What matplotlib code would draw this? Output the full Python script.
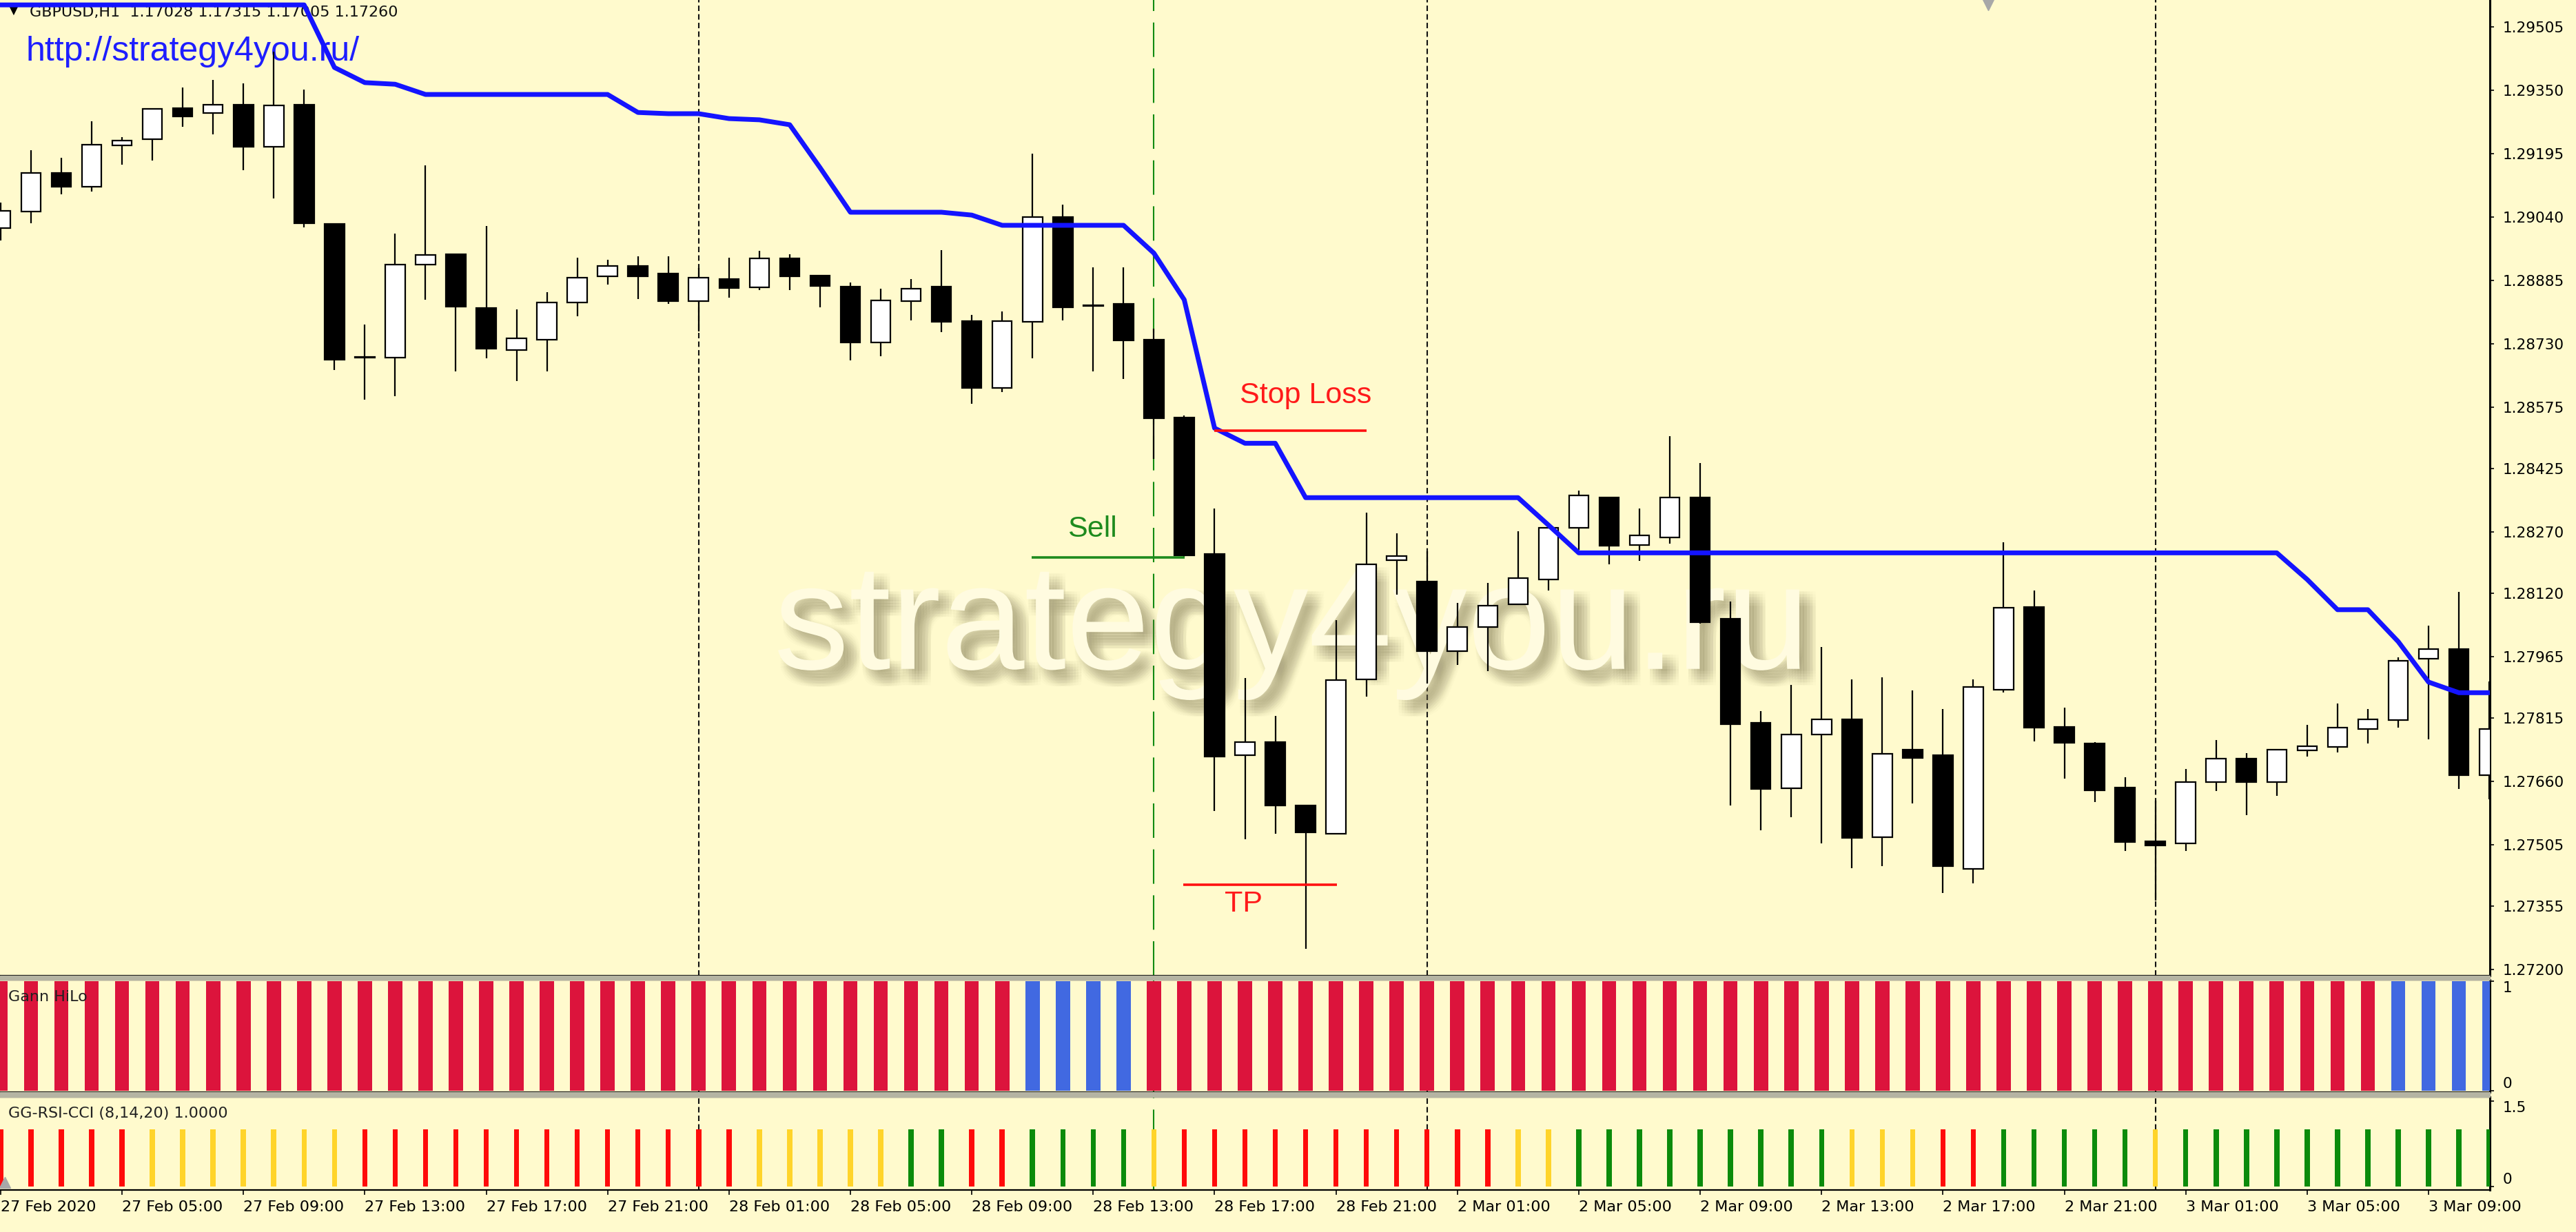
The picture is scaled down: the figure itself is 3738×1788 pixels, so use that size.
import matplotlib
matplotlib.use("Agg")
import matplotlib.pyplot as plt
import matplotlib.patheffects as pe
from matplotlib.patches import Rectangle
import numpy as np

# GBPUSD H1, 27 Feb 2020 01:00 .. 3 Mar 2020 11:00 (83 bars)
opens = [1.29013, 1.29054, 1.29148, 1.29114, 1.29215, 1.29230, 1.29306, 1.29295, 1.29315, 1.29212,
         1.29315, 1.29023, 1.28697, 1.28697, 1.28924, 1.28949, 1.28818, 1.28715, 1.28741, 1.28831,
         1.28895, 1.28921, 1.28902, 1.28835, 1.28889, 1.28869, 1.28939, 1.28897, 1.28870, 1.28734,
         1.28835, 1.28870, 1.28786, 1.28623, 1.28784, 1.29040, 1.28825, 1.28828, 1.28740, 1.28550,
         1.28216, 1.27724, 1.27756, 1.27601, 1.27532, 1.27910, 1.28201, 1.28149, 1.27979, 1.28038,
         1.28093, 1.28154, 1.28280, 1.28354, 1.28238, 1.28257, 1.28354, 1.28058, 1.27803, 1.27643,
         1.27775, 1.27812, 1.27524, 1.27738, 1.27724, 1.27446, 1.27884, 1.28087, 1.27793, 1.27753,
         1.27645, 1.27514, 1.27509, 1.27659, 1.27716, 1.27659, 1.27736, 1.27744, 1.27788, 1.27810,
         1.27960, 1.27984, 1.27675]
highs = [1.29076, 1.29204, 1.29185, 1.29274, 1.29236, 1.29305, 1.29357, 1.29376, 1.29367, 1.29445,
         1.29352, 1.29023, 1.28777, 1.29000, 1.29167, 1.28949, 1.29018, 1.28814, 1.28857, 1.28941,
         1.28936, 1.28944, 1.28944, 1.28916, 1.28941, 1.28958, 1.28949, 1.28897, 1.28880, 1.28865,
         1.28889, 1.28959, 1.28801, 1.28809, 1.29195, 1.29071, 1.28917, 1.28917, 1.28767, 1.28555,
         1.28328, 1.27913, 1.27820, 1.27601, 1.28055, 1.28318, 1.28267, 1.28223, 1.28097, 1.28146,
         1.28272, 1.28280, 1.28371, 1.28354, 1.28328, 1.28504, 1.28439, 1.28100, 1.27832, 1.27896,
         1.27989, 1.27910, 1.27915, 1.27883, 1.27837, 1.27910, 1.28245, 1.28127, 1.27841, 1.27756,
         1.27671, 1.27613, 1.27690, 1.27762, 1.27729, 1.27738, 1.27798, 1.27851, 1.27837, 1.27963,
         1.28041, 1.28124, 1.27905]
lows = [1.28983, 1.29025, 1.29096, 1.29103, 1.29168, 1.29178, 1.29261, 1.29242, 1.29155, 1.29086,
        1.29015, 1.28666, 1.28594, 1.28602, 1.28838, 1.28663, 1.28695, 1.28639, 1.28663, 1.28798,
        1.28875, 1.28840, 1.28828, 1.28761, 1.28843, 1.28862, 1.28862, 1.28819, 1.28690, 1.28700,
        1.28787, 1.28759, 1.28584, 1.28612, 1.28695, 1.28787, 1.28663, 1.28644, 1.28449, 1.28208,
        1.27588, 1.27519, 1.27532, 1.27251, 1.27532, 1.27868, 1.28117, 1.27899, 1.27945, 1.27930,
        1.28093, 1.28127, 1.28226, 1.28191, 1.28199, 1.28241, 1.28046, 1.27601, 1.27540, 1.27572,
        1.27509, 1.27448, 1.27453, 1.27606, 1.27387, 1.27411, 1.27877, 1.27758, 1.27667, 1.27610,
        1.27490, 1.27368, 1.27490, 1.27637, 1.27577, 1.27625, 1.27721, 1.27731, 1.27753, 1.27792,
        1.27763, 1.27642, 1.27616]
closes = [1.29055, 1.29148, 1.29114, 1.29217, 1.29227, 1.29305, 1.29287, 1.29315, 1.29212, 1.29313,
          1.29025, 1.28691, 1.28698, 1.28924, 1.28948, 1.28821, 1.28718, 1.28744, 1.28831, 1.28892,
          1.28921, 1.28895, 1.28835, 1.28892, 1.28867, 1.28939, 1.28895, 1.28872, 1.28734, 1.28836,
          1.28865, 1.28784, 1.28623, 1.28786, 1.29040, 1.28820, 1.28823, 1.28739, 1.28548, 1.28213,
          1.27721, 1.27756, 1.27601, 1.27535, 1.27908, 1.28191, 1.28211, 1.27979, 1.28038, 1.28090,
          1.28157, 1.28280, 1.28359, 1.28237, 1.28262, 1.28354, 1.28049, 1.27800, 1.27642, 1.27775,
          1.27812, 1.27522, 1.27728, 1.27718, 1.27453, 1.27891, 1.28085, 1.27792, 1.27755, 1.27638,
          1.27512, 1.27503, 1.27659, 1.27716, 1.27659, 1.27738, 1.27746, 1.27792, 1.27812, 1.27955,
          1.27984, 1.27675, 1.27788]

# Gann HiLo activator line (one value per bar)
gann_line = [1.29559, 1.29559, 1.29559, 1.29559, 1.29559, 1.29559, 1.29559, 1.29559, 1.29559, 1.29559,
             1.29559, 1.29406, 1.29369, 1.29365, 1.29340, 1.29340, 1.29340, 1.29340, 1.29340, 1.29340,
             1.29340, 1.29296, 1.29293, 1.29293, 1.29281, 1.29278, 1.29266, 1.29161, 1.29052, 1.29052,
             1.29052, 1.29052, 1.29045, 1.29020, 1.29020, 1.29020, 1.29020, 1.29020, 1.28952, 1.28838,
             1.28524, 1.28487, 1.28487, 1.28354, 1.28354, 1.28354, 1.28354, 1.28354, 1.28354, 1.28354,
             1.28354, 1.28287, 1.28219, 1.28219, 1.28219, 1.28219, 1.28219, 1.28219, 1.28219, 1.28219,
             1.28219, 1.28219, 1.28219, 1.28219, 1.28219, 1.28219, 1.28219, 1.28219, 1.28219, 1.28219,
             1.28219, 1.28219, 1.28219, 1.28219, 1.28219, 1.28219, 1.28154, 1.28080, 1.28080, 1.28002,
             1.27903, 1.27877, 1.27877]

# histogram states per bar: R = down, B = up (Gann HiLo); R / Y / G for GG-RSI-CCI
gann_state = ("RRRRRRRRRR" "RRRRRRRRRR" "RRRRRRRRRR" "RRRRBBBBRR" "RRRRRRRRRR"
              "RRRRRRRRRR" "RRRRRRRRRR" "RRRRRRRRRB" "BBB")
rsi_state = ("RRRRRYYYYY" "YYRRRRRRRR" "RRRRRYYYYY" "GGRRGGGGYR" "RRRRRRRRRR"
             "YYGGGGGGGG" "GYYYRRGGGG" "GYGGGGGGGG" "GGG")

time_labels = ["27 Feb 2020", "27 Feb 05:00", "27 Feb 09:00", "27 Feb 13:00", "27 Feb 17:00",
               "27 Feb 21:00", "28 Feb 01:00", "28 Feb 05:00", "28 Feb 09:00", "28 Feb 13:00",
               "28 Feb 17:00", "28 Feb 21:00", "2 Mar 01:00", "2 Mar 05:00", "2 Mar 09:00",
               "2 Mar 13:00", "2 Mar 17:00", "2 Mar 21:00", "3 Mar 01:00", "3 Mar 05:00",
               "3 Mar 09:00"]
price_ticks = [1.29505, 1.29350, 1.29195, 1.29040, 1.28885, 1.28730, 1.28575, 1.28425,
               1.28270, 1.28120, 1.27965, 1.27815, 1.27660, 1.27505, 1.27355, 1.27200]

day_breaks = [23, 47, 71]
entry_bar = 38
sell_price = 1.28208
stop_loss = 1.28518
take_profit = 1.27408

BG = '#FFFACD'
W, H = 3738, 1788
fig = plt.figure(figsize=(W / 100, H / 100), dpi=100)
fig.patch.set_facecolor(BG)

right = 3613 / W
ax1 = fig.add_axes([0, 1 - 1416 / H, right, 1416 / H])
ax2 = fig.add_axes([0, 1 - 1585 / H, right, 163 / H], sharex=ax1)
ax3 = fig.add_axes([0, 1 - 1727 / H, right, 135 / H], sharex=ax1)

# gray separators between the windows
for top, bottom in [(1416, 1422), (1585, 1592)]:
    fig.patches.append(Rectangle((0, 1 - bottom / H), right, (bottom - top) / H,
                                 transform=fig.transFigure, color='#B5B4A3', zorder=0))

x = np.arange(len(opens))
o = np.array(opens)
c = np.array(closes)

for ax in (ax1, ax2, ax3):
    ax.set_facecolor(BG)
    ax.spines['left'].set_visible(False)
    ax.spines['right'].set_linewidth(2.2)
    ax.spines['bottom'].set_linewidth(1.6)
    ax.spines['top'].set_linewidth(1.6)
    ax.yaxis.tick_right()
    ax.tick_params(axis='y', direction='out', length=4, width=1.2, pad=9.5,
                   labelsize=15.5, colors='black')
    for b in day_breaks:
        ax.axvline(b, color='#111111', lw=1.5, ls=(0, (3.8, 2.2)), zorder=1)
    ax.axvline(entry_bar, color='#118A11', lw=1.5, ls=(0, (24, 8)), zorder=1)
ax1.spines['top'].set_visible(False)
ax1.set_xlim(-0.02, 82.02)
ax1.tick_params(axis='x', bottom=False, labelbottom=False)
ax2.tick_params(axis='x', bottom=False, labelbottom=False)

# candles
ax1.vlines(x, lows, highs, color='black', lw=1.6, zorder=3)
body_col = ['white' if cc >= oo else 'black' for oo, cc in zip(opens, closes)]
body_h = np.maximum(np.abs(c - o), 0.000004)
ax1.bar(x, body_h, bottom=np.minimum(o, c), width=0.65, color=body_col,
        edgecolor='black', linewidth=1.6, zorder=4)
ax1.plot(x, gann_line, color='#1414FF', lw=5.0, zorder=6, solid_joinstyle='round')

ax1.set_ylim(1.27185, 1.29571)
ax1.set_yticks(price_ticks)
ax1.set_yticklabels(['%.5f' % p for p in price_ticks])

# trade marks
ax1.hlines(sell_price, 33.97, 39.01, color='#1E8B1E', lw=2.6, zorder=7)
ax1.hlines(stop_loss, 40.0, 45.0, color='#FF1010', lw=2.6, zorder=7)
ax1.hlines(take_profit, 38.97, 44.03, color='#FF1010', lw=2.6, zorder=7)
ax1.text(35.97, 1.28277, 'Sell', color='#1E8B1E', fontsize=31, family='Liberation Sans',
         ha='center', va='center', zorder=7)
ax1.text(43.0, 1.28604, 'Stop Loss', color='#FF1A1A', fontsize=31, family='Liberation Sans',
         ha='center', va='center', zorder=7)
ax1.text(40.96, 1.27360, 'TP', color='#FF1A1A', fontsize=31, family='Liberation Sans',
         ha='center', va='center', zorder=7)

# watermark with a soft shadow
shadow = [pe.SimplePatchShadow(offset=(dx, dy), shadow_rgbFace='#8A8260', alpha=0.024)
          for dx in (2, 5, 8, 11, 14, 17) for dy in (-2, -5, -8, -11, -14, -17)]
ax1.text(0.5187, 0.354, 'strategy4you.ru', transform=ax1.transAxes, fontsize=157,
         family='Liberation Sans', color='#FFFBE0', ha='center', va='center', zorder=2,
         path_effects=shadow + [pe.Normal()])

# header texts
ax1.text(20 / 3613, 1 - 15 / 1416, '\u25BC', transform=ax1.transAxes, fontsize=13,
         ha='center', va='center', zorder=2)
ax1.text(43 / 3613, 1 - 18 / 1416, 'GBPUSD,H1  1.17028 1.17315 1.17005 1.17260',
         transform=ax1.transAxes, fontsize=16, color='#111111', va='center', zorder=2)
ax1.text(37 / 3613, 1 - 75 / 1416, 'http://strategy4you.ru/', transform=ax1.transAxes,
         fontsize=36, family='Liberation Sans', color='#1E1EFF', va='center', zorder=2)
ax1.plot(2885 / 3613, 0.996, marker='v', ms=13, color='#A8A8A8', transform=ax1.transAxes,
         clip_on=False, zorder=2)

# Gann HiLo window
gann_colors = {'R': '#DC143C', 'B': '#4169E1'}
ax2.bar(x, 1, width=0.47, color=[gann_colors[s] for s in gann_state], zorder=3)
ax2.set_ylim(-0.012, 1.012)
ax2.set_yticks([0, 1])
ax2.set_yticklabels([])
ax2.text(1.00526, 1.0, '1', transform=ax2.get_yaxis_transform(), fontsize=15.5, va='top')
ax2.text(1.00526, 0.0, '0', transform=ax2.get_yaxis_transform(), fontsize=15.5, va='bottom')
ax2.text(12 / 3613, 1 - 15 / 163, 'Gann HiLo', transform=ax2.transAxes, fontsize=16,
         color='#222222', va='top', zorder=5)

# GG-RSI-CCI window
rsi_colors = {'R': '#FF0A0A', 'Y': '#FFD42A', 'G': '#0B8B0B'}
ax3.bar(x, 1, width=0.17, color=[rsi_colors[s] for s in rsi_state], zorder=3)
ax3.set_ylim(-0.06, 1.573)
ax3.set_yticks([0, 1.5])
ax3.set_yticklabels([])
ax3.text(1.00526, 1.5, '1.5', transform=ax3.get_yaxis_transform(), fontsize=15.5, va='top')
ax3.text(1.00526, 0.0, '0', transform=ax3.get_yaxis_transform(), fontsize=15.5, va='bottom')
ax3.text(12 / 3613, 1 - 14 / 135, 'GG-RSI-CCI (8,14,20) 1.0000', transform=ax3.transAxes,
         fontsize=16, color='#222222', va='top', zorder=5)
ax3.plot(0.002, 0.08, marker='^', ms=12, color='#A8A8A8', transform=ax3.transAxes,
         clip_on=False, zorder=5)

ax3.set_xticks(np.arange(0, 81, 4))
ax3.set_xticklabels(time_labels)
ax3.tick_params(axis='x', direction='out', length=5, width=1.2, pad=6, labelsize=16)
plt.setp(ax3.get_xticklabels(), ha='left')

fig.savefig('out.png', dpi=100, facecolor=BG)
